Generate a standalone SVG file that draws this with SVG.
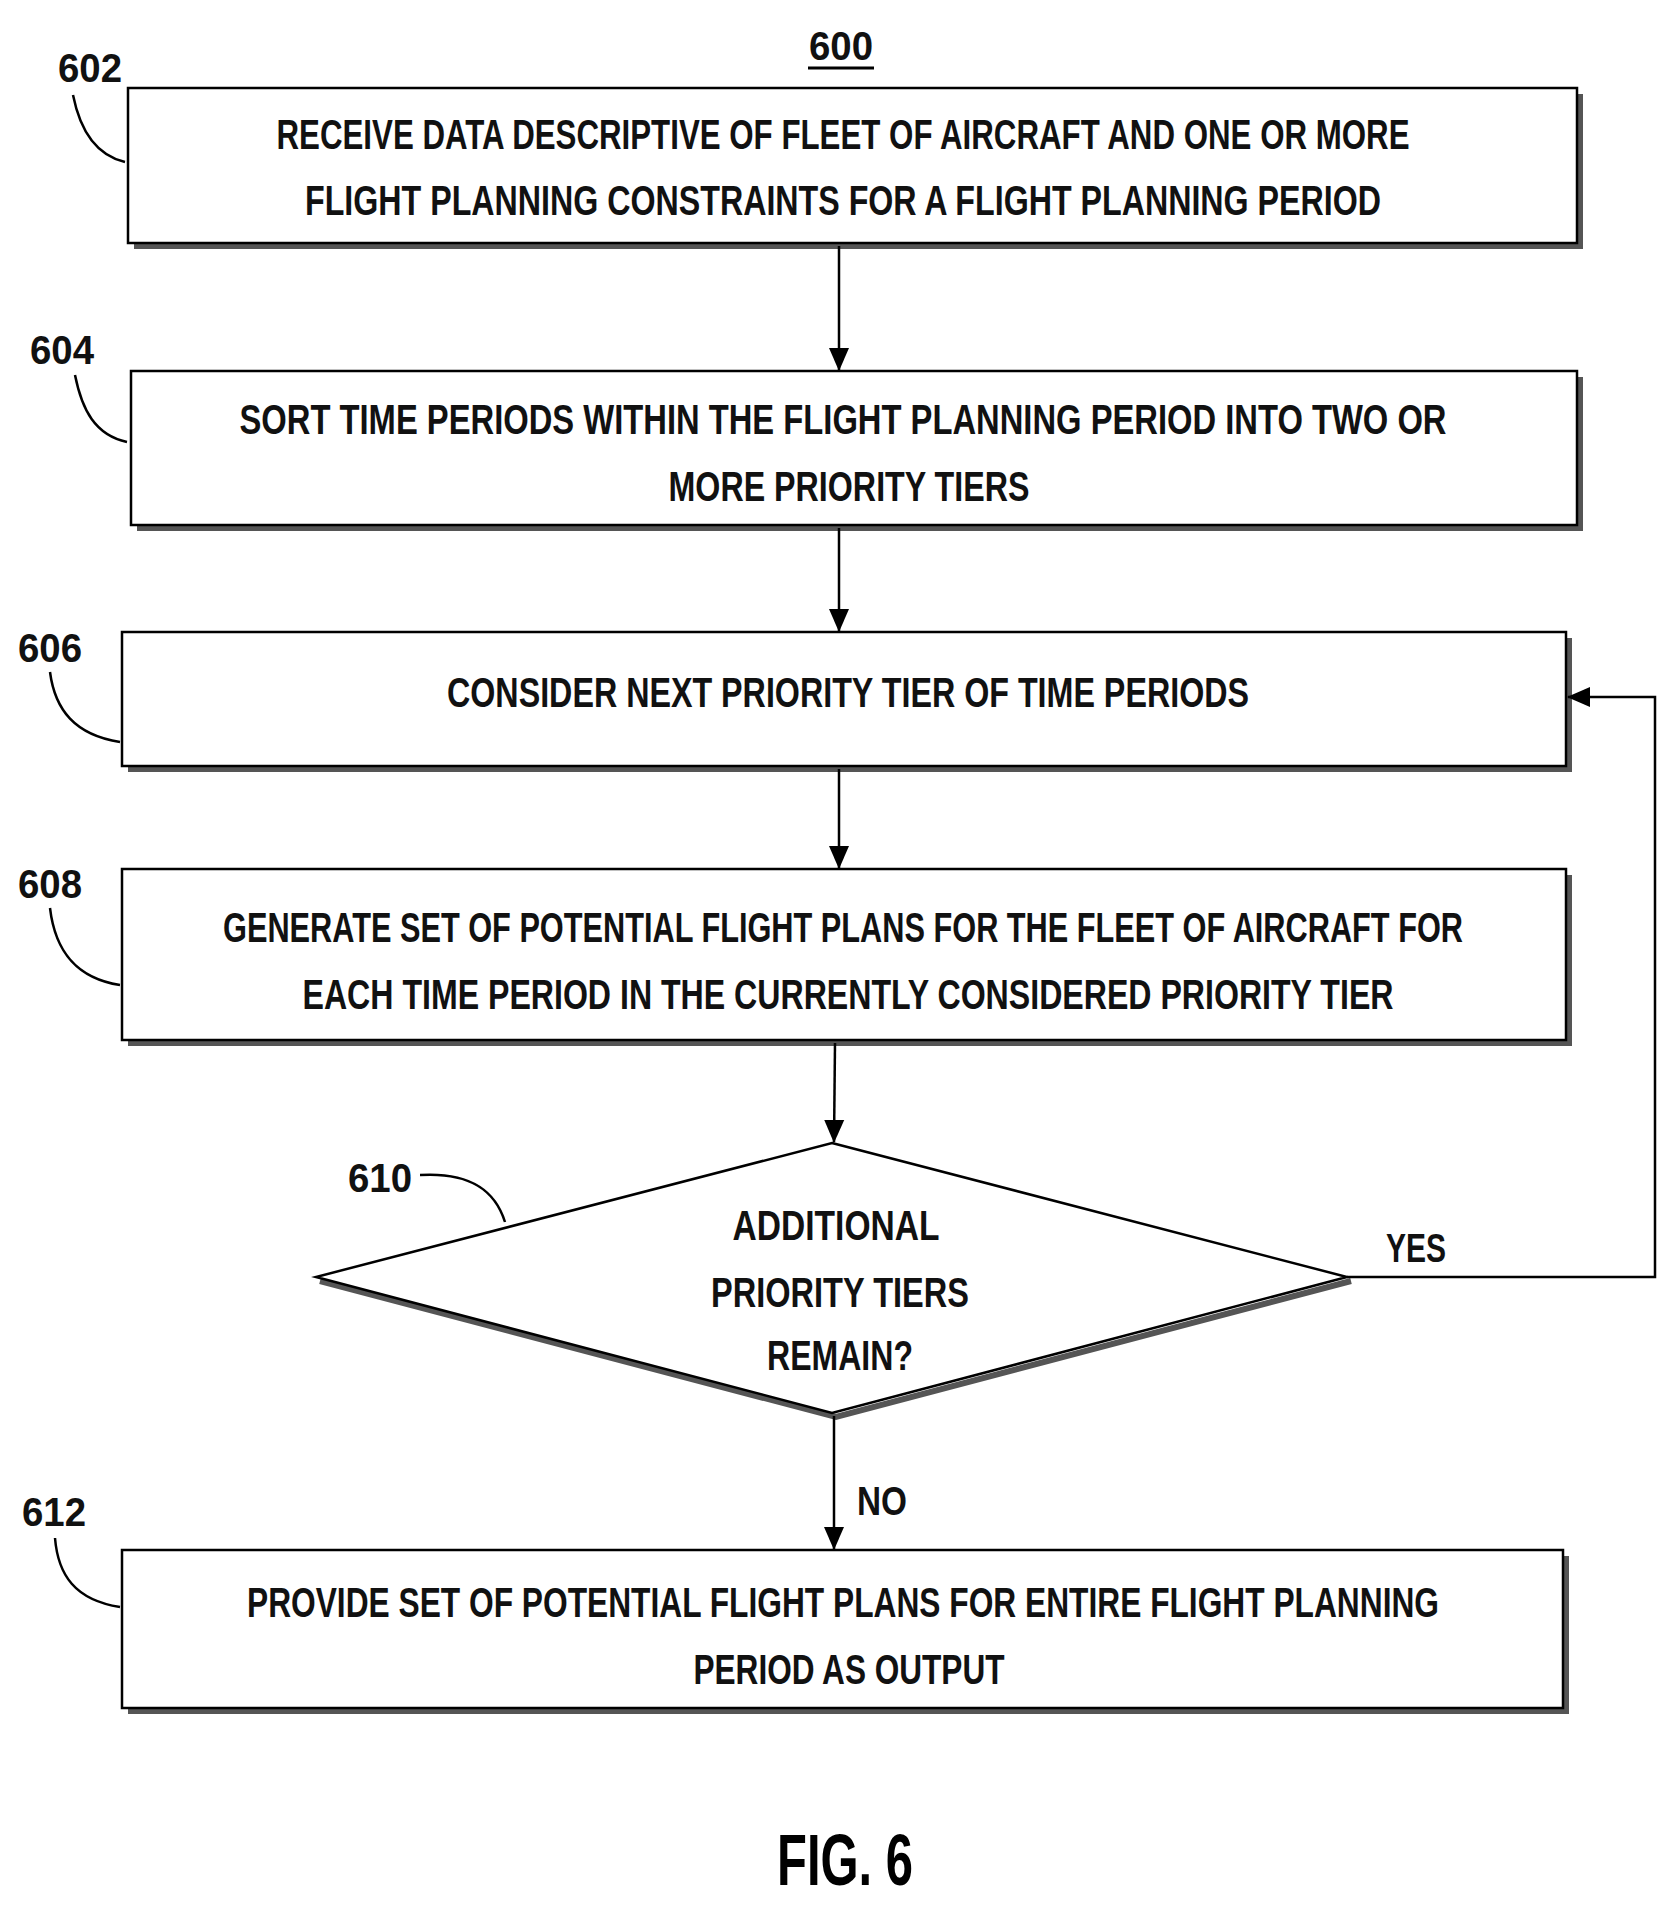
<svg xmlns="http://www.w3.org/2000/svg" width="1678" height="1906" viewBox="0 0 1678 1906">
<style>
.b{fill:#fff;stroke:#000;stroke-width:2.5}
.s{fill:none;stroke:#555;stroke-width:6}
.t{font-family:"Liberation Sans",Arial,sans-serif;font-weight:bold;font-size:42px;fill:#111}
.l{font-family:"Liberation Sans",Arial,sans-serif;font-weight:bold;font-size:40px;fill:#111}
.c{fill:none;stroke:#000;stroke-width:2.5}
</style>
<defs><marker id="a" markerWidth="24" markerHeight="24" refX="22" refY="12" orient="auto" markerUnits="userSpaceOnUse"><path d="M0,2 L23,12 L0,22 Z" fill="#000"/></marker></defs>
<g id="title"><text class="l" x="841" y="60" text-anchor="middle" textLength="64" lengthAdjust="spacingAndGlyphs">600</text><line x1="808" y1="68" x2="874" y2="68" stroke="#000" stroke-width="3"/></g>
<g id="n602"><path class="s" d="M134,246 H1580 V94"/><rect class="b" x="128" y="88" width="1449" height="155"/>
<text class="t" x="843" y="149" text-anchor="middle" textLength="1133" lengthAdjust="spacingAndGlyphs">RECEIVE DATA DESCRIPTIVE OF FLEET OF AIRCRAFT AND ONE OR MORE</text>
<text class="t" x="843" y="215" text-anchor="middle" textLength="1076" lengthAdjust="spacingAndGlyphs">FLIGHT PLANNING CONSTRAINTS FOR A FLIGHT PLANNING PERIOD</text>
<text class="l" x="58" y="82" textLength="64" lengthAdjust="spacingAndGlyphs">602</text><path class="c" d="M73,95 C80,130 95,155 125,162"/></g>
<g id="n604"><path class="s" d="M137,528 H1580 V377"/><rect class="b" x="131" y="371" width="1446" height="154"/>
<text class="t" x="843" y="434" text-anchor="middle" textLength="1207" lengthAdjust="spacingAndGlyphs">SORT TIME PERIODS WITHIN THE FLIGHT PLANNING PERIOD INTO TWO OR</text>
<text class="t" x="849" y="501" text-anchor="middle" textLength="361" lengthAdjust="spacingAndGlyphs">MORE PRIORITY TIERS</text>
<text class="l" x="30" y="364" textLength="64" lengthAdjust="spacingAndGlyphs">604</text><path class="c" d="M75,375 C82,410 95,435 127,442"/></g>
<g id="n606"><path class="s" d="M128,769 H1569 V638"/><rect class="b" x="122" y="632" width="1444" height="134"/>
<text class="t" x="848" y="707" text-anchor="middle" textLength="802" lengthAdjust="spacingAndGlyphs">CONSIDER NEXT PRIORITY TIER OF TIME PERIODS</text>
<text class="l" x="18" y="662" textLength="64" lengthAdjust="spacingAndGlyphs">606</text><path class="c" d="M50,672 C55,710 75,735 120,742"/></g>
<g id="n608"><path class="s" d="M128,1043 H1569 V875"/><rect class="b" x="122" y="869" width="1444" height="171"/>
<text class="t" x="843" y="942" text-anchor="middle" textLength="1240" lengthAdjust="spacingAndGlyphs">GENERATE SET OF POTENTIAL FLIGHT PLANS FOR THE FLEET OF AIRCRAFT FOR</text>
<text class="t" x="848" y="1009" text-anchor="middle" textLength="1091" lengthAdjust="spacingAndGlyphs">EACH TIME PERIOD IN THE CURRENTLY CONSIDERED PRIORITY TIER</text>
<text class="l" x="18" y="898" textLength="64" lengthAdjust="spacingAndGlyphs">608</text><path class="c" d="M50,908 C55,950 75,978 120,985"/></g>
<g id="n610"><path class="s" d="M320,1281 L836,1417 L1351,1281"/><polygon class="b" points="832,1143 1347,1277 832,1413 316,1277"/>
<text class="t" x="836" y="1240" text-anchor="middle" textLength="207" lengthAdjust="spacingAndGlyphs">ADDITIONAL</text>
<text class="t" x="840" y="1307" text-anchor="middle" textLength="258" lengthAdjust="spacingAndGlyphs">PRIORITY TIERS</text>
<text class="t" x="840" y="1370" text-anchor="middle" textLength="146" lengthAdjust="spacingAndGlyphs">REMAIN?</text>
<text class="l" x="348" y="1192" textLength="64" lengthAdjust="spacingAndGlyphs">610</text><path class="c" d="M420,1175 C470,1172 495,1190 505,1222"/></g>
<g id="n612"><path class="s" d="M128,1711 H1566 V1556"/><rect class="b" x="122" y="1550" width="1441" height="158"/>
<text class="t" x="843" y="1617" text-anchor="middle" textLength="1192" lengthAdjust="spacingAndGlyphs">PROVIDE SET OF POTENTIAL FLIGHT PLANS FOR ENTIRE FLIGHT PLANNING</text>
<text class="t" x="849" y="1684" text-anchor="middle" textLength="311" lengthAdjust="spacingAndGlyphs">PERIOD AS OUTPUT</text>
<text class="l" x="22" y="1526" textLength="64" lengthAdjust="spacingAndGlyphs">612</text><path class="c" d="M55,1538 C58,1575 75,1600 120,1607"/></g>
<g id="connectors">
<line class="c" x1="839" y1="246" x2="839" y2="370" marker-end="url(#a)"/>
<line class="c" x1="839" y1="528" x2="839" y2="631" marker-end="url(#a)"/>
<line class="c" x1="839" y1="769" x2="839" y2="868" marker-end="url(#a)"/>
<line class="c" x1="835" y1="1043" x2="834" y2="1142" marker-end="url(#a)"/>
<line class="c" x1="834" y1="1416" x2="834" y2="1549" marker-end="url(#a)"/>
<polyline class="c" points="1347,1277 1655,1277 1655,697 1568,697" marker-end="url(#a)"/>
<text class="l" x="1386" y="1262" textLength="60" lengthAdjust="spacingAndGlyphs">YES</text>
<text class="l" x="857" y="1515" textLength="50" lengthAdjust="spacingAndGlyphs">NO</text>
</g>
<text x="845" y="1885" text-anchor="middle" font-family="Liberation Sans,sans-serif" font-weight="bold" font-size="72" textLength="136" lengthAdjust="spacingAndGlyphs">FIG. 6</text>
</svg>
